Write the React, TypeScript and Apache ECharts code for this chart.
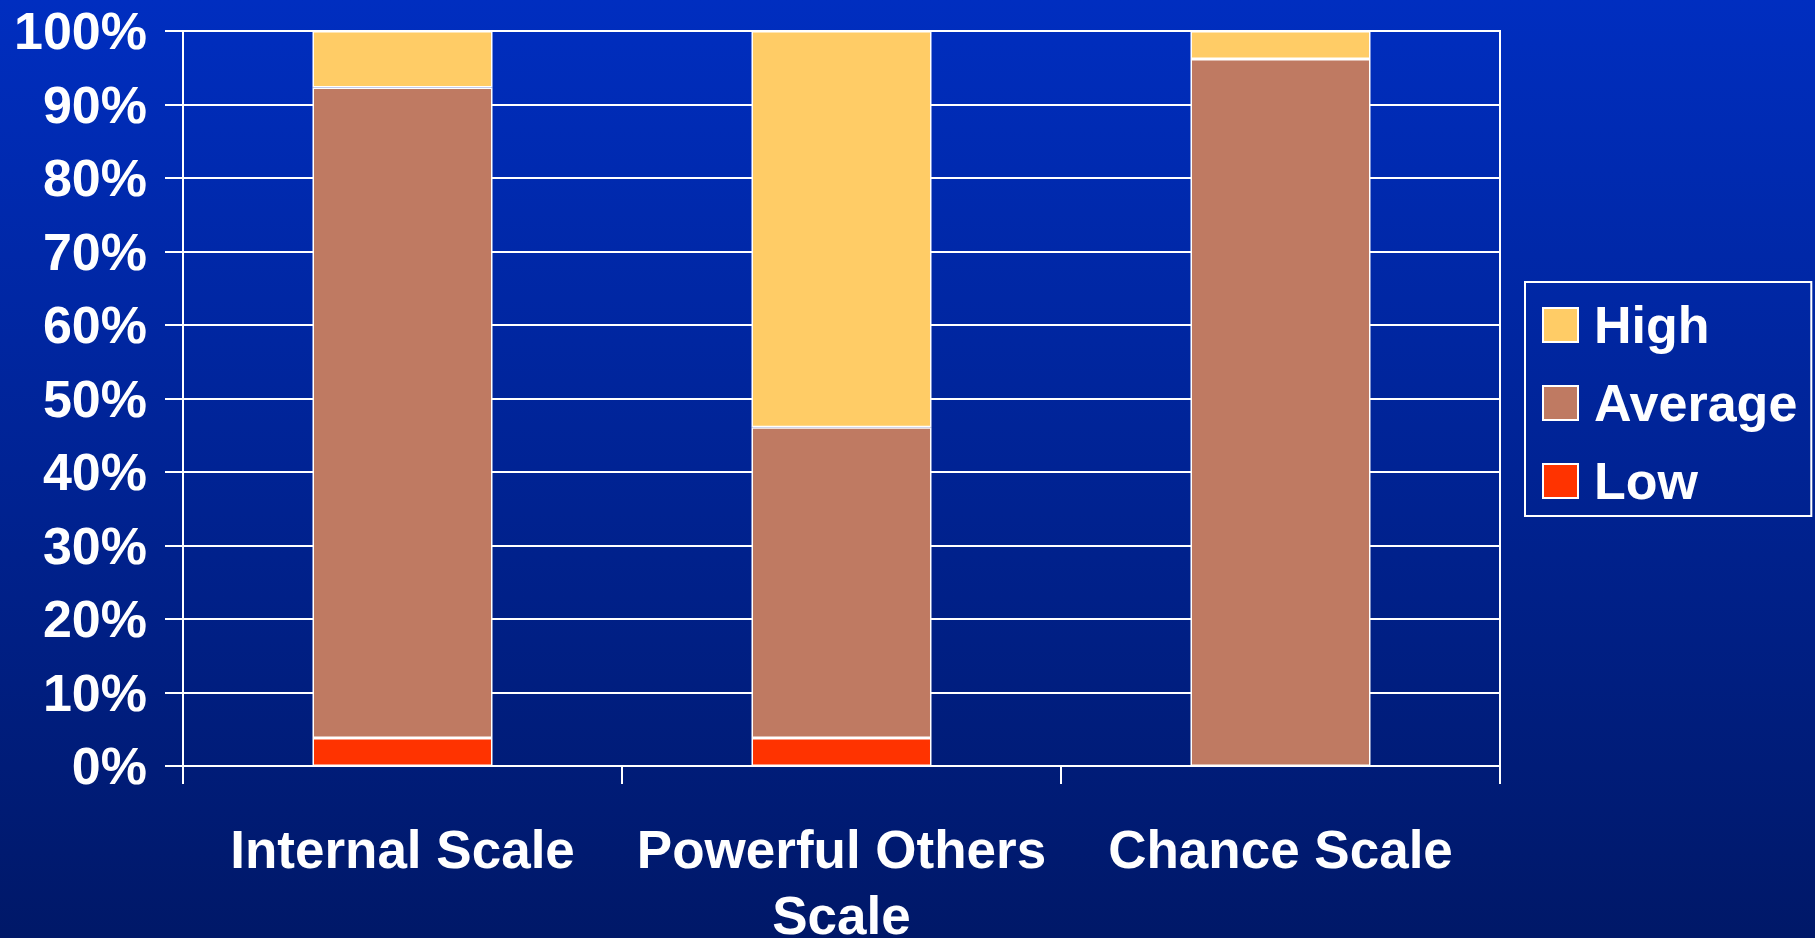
import React, { useEffect, useRef } from "react";
import * as echarts from "echarts";

const categories: string[] = ["Internal Scale", "Powerful Others\nScale", "Chance Scale"];
const lowValues: number[] = [3.8, 3.8, 0];
const averageValues: number[] = [88.5, 42.3, 96.2];
const highValues: number[] = [7.7, 53.9, 3.8];
const legendNames: string[] = ["High", "Average", "Low"];

const FONT = "'Liberation Sans', Arial, sans-serif";

export default function App() {
  const ref = useRef<HTMLDivElement>(null);
  useEffect(() => {
    if (!ref.current) return;
    const chart = echarts.init(ref.current, null, { renderer: "svg" });
    const barStyle = (color: string) => ({
      color,
      borderColor: "#ffffff",
      borderWidth: 1.5,
    });
    chart.setOption({
      animation: false,
      backgroundColor: {
        type: "linear",
        x: 0,
        y: 0,
        x2: 0,
        y2: 1,
        colorStops: [
          { offset: 0, color: "#002EC0" },
          { offset: 1, color: "#001868" },
        ],
      },
      textStyle: { fontFamily: FONT },
      grid: {
        left: 183,
        right: 315,
        top: 31,
        bottom: 172,
        outerBoundsMode: "none",
        containLabel: false,
        show: true,
        borderColor: "#ffffff",
        borderWidth: 2,
        backgroundColor: "transparent",
      },
      legend: {
        orient: "vertical",
        left: 1525,
        top: 282,
        data: legendNames,
        icon: "rect",
        itemWidth: 35,
        itemHeight: 34,
        itemGap: 26,
        padding: [17, 14, 9, 17],
        borderColor: "#ffffff",
        borderWidth: 2,
        textStyle: {
          color: "#ffffff",
          fontSize: 52,
          fontWeight: "bold",
          fontFamily: FONT,
          padding: [0, 0, 0, 11],
        },
      },
      xAxis: {
        type: "category",
        data: categories,
        axisLine: { show: true, lineStyle: { color: "#ffffff", width: 2 } },
        axisTick: { show: true, length: 18, lineStyle: { color: "#ffffff", width: 2 } },
        axisLabel: {
          color: "#ffffff",
          fontSize: 53,
          fontWeight: "bold",
          fontFamily: FONT,
          lineHeight: 66,
          margin: 50,
          align: "center",
          interval: 0,
        },
        splitLine: { show: false },
      },
      yAxis: {
        type: "value",
        min: 0,
        max: 100,
        interval: 10,
        axisLine: { show: true, lineStyle: { color: "#ffffff", width: 2 } },
        axisTick: { show: true, length: 18, lineStyle: { color: "#ffffff", width: 2 } },
        axisLabel: {
          color: "#ffffff",
          fontSize: 52,
          fontWeight: "bold",
          fontFamily: FONT,
          margin: 36,
          formatter: "{value}%",
        },
        splitLine: { show: true, lineStyle: { color: "#ffffff", width: 2 } },
      },
      series: [
        {
          name: "Low",
          type: "bar",
          stack: "total",
          barCategoryGap: "59%",
          data: lowValues,
          itemStyle: barStyle("#FF3300"),
        },
        {
          name: "Average",
          type: "bar",
          stack: "total",
          barCategoryGap: "59%",
          data: averageValues,
          itemStyle: barStyle("#BF7A62"),
        },
        {
          name: "High",
          type: "bar",
          stack: "total",
          barCategoryGap: "59%",
          data: highValues,
          itemStyle: barStyle("#FFCC66"),
        },
      ],
    });
    return () => chart.dispose();
  }, []);
  return (
    <div
      ref={ref}
      style={{ position: "fixed", left: 0, top: 0, width: "1815px", height: "938px" }}
    />
  );
}
